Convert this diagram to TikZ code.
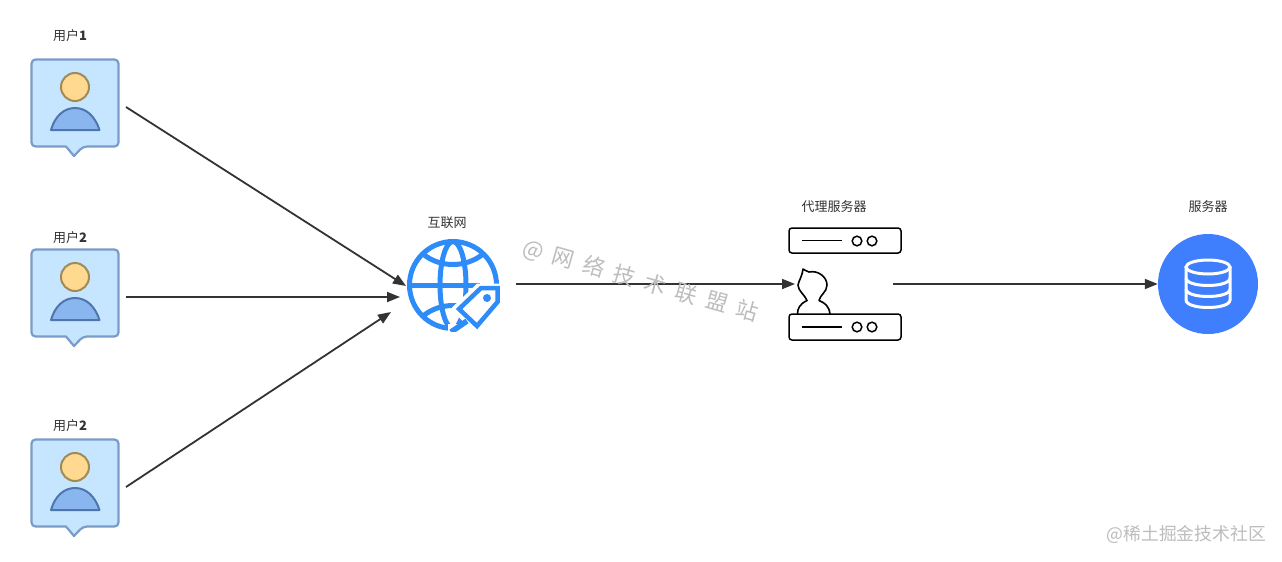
\documentclass[tikz,border=0pt]{standalone}
\usepackage{fontspec}
\setmainfont{Noto Sans CJK SC}
\usetikzlibrary{arrows.meta}
\definecolor{cardfill}{HTML}{C6E6FF}
\definecolor{cardline}{HTML}{7A9CC8}
\definecolor{headfill}{HTML}{FFD98F}
\definecolor{headline}{HTML}{A08A55}
\definecolor{bodyfill}{HTML}{8AB6EF}
\definecolor{bodyline}{HTML}{4E75AC}
\definecolor{globeblue}{HTML}{2D8CF8}
\definecolor{dbblue}{HTML}{3F7EFD}
\definecolor{ink}{HTML}{333333}
\definecolor{wm}{HTML}{BDBDBD}
\tikzset{
  lbl/.style={font=\fontsize{13}{15}\selectfont,text=ink,inner sep=0pt},
  anchorbox/.style={inner sep=0pt,outer sep=0pt,minimum width=#1,minimum height=#1},
  link/.style={draw=ink,line width=1.8pt,-{Triangle[length=13pt,width=10pt]}},
  srv/.style={draw=black,line width=1.5pt,rounded corners=3pt,fill=white},
  srvdot/.style={draw=black,line width=1.5pt,fill=white},
  glb/.style={draw=globeblue,line width=5pt},
  watermark/.style={text=wm,inner sep=0pt}
}
\newcommand{\usercard}[2]{%
  \begin{scope}[yshift=-#2pt]
    \node[anchorbox=88pt] (#1) at (75,103) {};
    \draw[fill=cardfill,draw=cardline,line width=2.2pt,line join=round,rounded corners=4pt]
      (31.5,59.5) -- (118.5,59.5) -- (118.5,146.5) -- (83,146.5) [sharp corners] -- (74,156) -- (66,146.5) [rounded corners=4pt] -- (31.5,146.5) -- cycle;
    \draw[fill=headfill,draw=headline,line width=2pt] (75,87) circle (14);
    \draw[fill=bodyfill,draw=bodyline,line width=2pt,line join=round]
      (51,130) .. controls (55,116) and (64,108) .. (75,108) .. controls (86,108) and (95,116) .. (99.5,130) -- cycle;
  \end{scope}}
\begin{document}
\begin{tikzpicture}[x=1pt,y=-1pt]
\useasboundingbox[fill=white] (0,0) rectangle (1282,562);

% users
\usercard{ua}{0}
\usercard{ub}{190}
\usercard{uc}{380}
\node[lbl] (la) at (70,36) {用户\textbf{1}};
\node[lbl] (lb) at (70,238) {用户\textbf{2}};
\node[lbl] (lc) at (70,426) {用户\textbf{2}};

% globe
\node[anchorbox=90pt] (net) at (453,285) {};
\node[lbl] (lnet) at (447,223) {互联网};
\begin{scope}
  \clip (400,235) rectangle (505,331);
  \draw[glb] (453,285) circle (43.5);
  \draw[glb] (453,285) ellipse (13 and 43.5);
  \draw[glb] (410,285.5) -- (480,285.5);
  \draw[glb] (423,254) .. controls (440,268) and (466,268) .. (483,254);
  \draw[glb] (423,316) .. controls (440,302) and (466,302) .. (483,316);
  \fill[white,draw=white,line width=9pt,line join=miter]
    (479,288) -- (499,288) -- (499,303) -- (477,329) -- (457,309) -- cycle;
  \fill[white] (448,324) rectangle (505,335);
  \draw[glb,line width=4.5pt,line join=miter]
    (481,288) -- (497.5,288) -- (497.5,302) -- (477,326) -- (459,309) -- cycle;
  \fill[globeblue] (487,298) circle (4);
  \draw[glb,line width=5.5pt] (451,332) -- (467,321);
\end{scope}

% proxy server
\node[anchorbox=112pt] (proxy) at (845,284) {};
\node[lbl] (lproxy) at (834,207) {代理服务器};
\draw[srv] (789,228) rectangle (901,253);
\draw[black,line width=1.5pt] (802,240.5) -- (842,240.5);
\draw[srvdot] (857,241) circle (4.8);
\draw[srvdot] (872,241) circle (4.8);
\draw[black,line width=1.6pt,line join=round,fill=white]
  (797.5,314) .. controls (797.5,308) and (800,304) .. (807,300.5)
  .. controls (805,295) and (798,291) .. (798,285)
  .. controls (799,280) and (802,277) .. (803,269)
  .. controls (805,269) and (806,272) .. (809,272)
  .. controls (818,270) and (827,277) .. (827,285)
  .. controls (827,292) and (820,295) .. (819,300.5)
  .. controls (825,303) and (829,306) .. (830,314);
\draw[srv] (789,314) rectangle (901,340);
\draw[black,line width=1.5pt] (802,327) -- (842,327);
\draw[srvdot] (857,327) circle (4.8);
\draw[srvdot] (872,327) circle (4.8);

% database
\node[circle,fill=dbblue,inner sep=0pt,minimum size=100pt] (db) at (1208,284) {};
\node[lbl] (ldb) at (1208,207) {服务器};
\draw[white,line width=3pt] (1208,267) ellipse (22 and 7);
\draw[white,line width=3pt] (1186,267) -- (1186,300) .. controls (1186,310) and (1230,310) .. (1230,300) -- (1230,267);
\draw[white,line width=3pt] (1186,278) .. controls (1186,288) and (1230,288) .. (1230,278);
\draw[white,line width=3pt] (1186,289) .. controls (1186,299) and (1230,299) .. (1230,289);

% connectors
\draw[link] ([shift={(7,4)}]ua.east) -- ([shift={(-2,1)}]net.west);
\draw[link] ([shift={(7,4)}]ub.east) -- ([shift={(-8,12)}]net.west);
\draw[link] ([shift={(7,4)}]uc.east) -- ([shift={(-17,27)}]net.west);
\draw[link] ([shift={(18,-1)}]net.east) -- ([xshift=6pt]proxy.west);
\draw[link] ([xshift=-8pt]proxy.east) -- (db.west);

% watermarks
\node[watermark,font=\fontsize{22}{24}\selectfont,rotate=-16,anchor=center] (wma) at (641,281)
  {@\hspace{9pt}网\hspace{10pt}络\hspace{10pt}技\hspace{10pt}术\hspace{10pt}联\hspace{10pt}盟\hspace{10pt}站};
\node[watermark,font=\fontsize{17.8}{20}\selectfont,anchor=east] (wmb) at (1266,534.5) {@稀土掘金技术社区};
\end{tikzpicture}
\end{document}
